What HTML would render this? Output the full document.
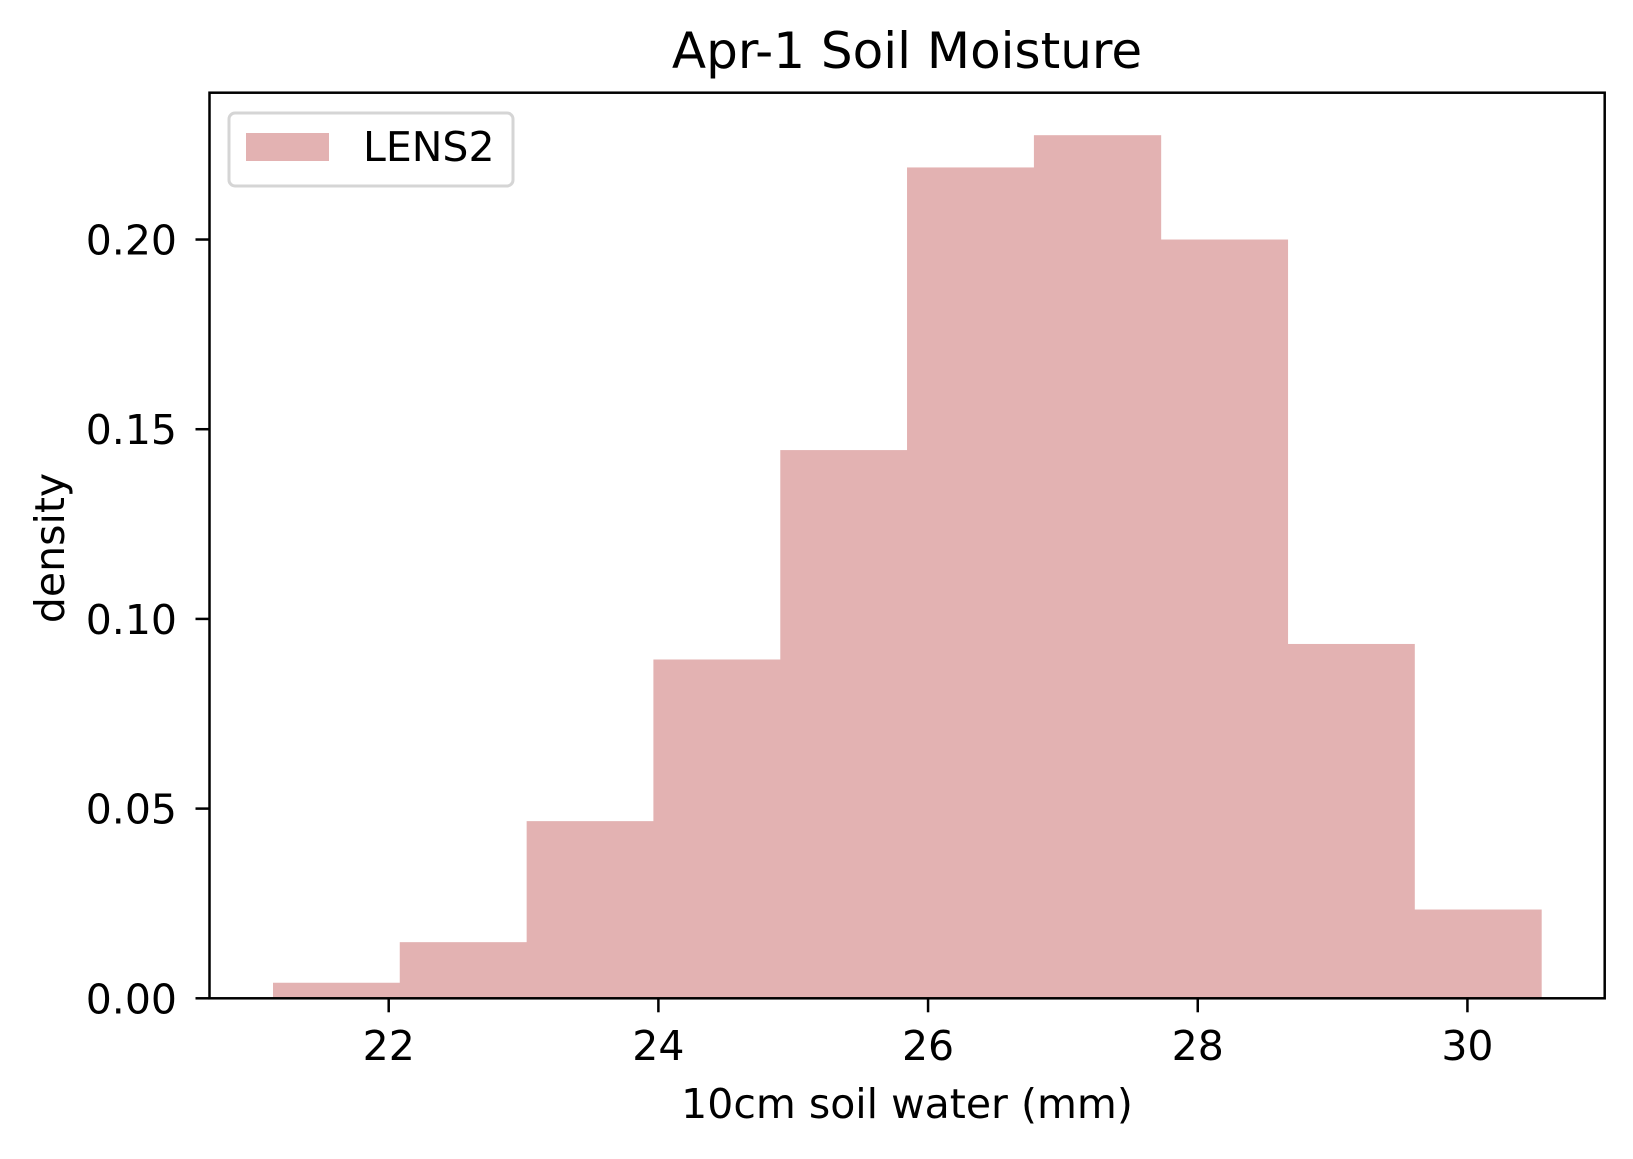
<!DOCTYPE html>
<html><head><meta charset="utf-8"><style>
body{margin:0;background:#fff}
text{font-family:"DejaVu Sans","Liberation Sans",sans-serif;fill:#000}
</style></head><body>
<svg id="chart" width="1633" height="1154" xmlns="http://www.w3.org/2000/svg">
<rect width="1633" height="1154" fill="#fff"/>
<g id="bars"></g>
<g id="axes"></g>
<text x="907" y="68" font-size="50" text-anchor="middle">Apr-1 Soil Moisture</text>
<text x="907" y="1118" font-size="41" text-anchor="middle">10cm soil water (mm)</text>
<text transform="translate(64,548) rotate(-90)" font-size="41" text-anchor="middle">density</text>
<g>
<rect x="229" y="113" width="284" height="73" rx="6" fill="#fff" fill-opacity="0.8" stroke="#d5d5d5" stroke-width="3"/>
<rect x="246" y="133" width="83" height="28" fill="#e3b2b2"/>
<text x="363" y="161" font-size="41">LENS2</text>
</g>
</svg>
<script>
const binEdges=[21.142,22.082,23.023,23.963,24.904,25.844,26.785,27.725,28.666,29.606,30.547];
const densities=[0.0041,0.0148,0.0467,0.0893,0.1445,0.219,0.2275,0.200,0.0934,0.0234];
const xTicks=[22,24,26,28,30];
const yTicks=[0,0.05,0.10,0.15,0.20];
const yTickLabels=["0.00","0.05","0.10","0.15","0.20"];
const L=209.5,R=1604.7,T=92.7,B=998.3,xmin=20.671,xmax=31.018,ymax=0.2387;
const sx=v=>L+(v-xmin)/(xmax-xmin)*(R-L);
const sy=v=>B-v/ymax*(B-T);
const NS="http://www.w3.org/2000/svg";
const bars=document.getElementById('bars'),axes=document.getElementById('axes');
function mk(tag,attrs,parent){const e=document.createElementNS(NS,tag);for(const k in attrs)e.setAttribute(k,attrs[k]);parent.appendChild(e);return e;}
densities.forEach((d,i)=>{
 const x0=sx(binEdges[i]),x1=sx(binEdges[i+1]);
 const r=mk('rect',{x:x0,y:sy(d),width:x1-x0+0.5,height:B-sy(d),fill:'#e3b2b2'},bars);
 
 
});
const frame=mk('rect',{x:L,y:T,width:R-L,height:B-T,fill:'none',stroke:'#000','stroke-width':2.5},axes);


xTicks.forEach(v=>{
 const x=sx(v);
 const t=mk('line',{x1:x,x2:x,y1:B,y2:B+14,stroke:'#000','stroke-width':2.5},axes);
 
 
 const l=mk('text',{x:x,y:1060,'font-size':41,'text-anchor':'middle'},axes);l.textContent=v;
 
 
});
yTicks.forEach((v,i)=>{
 const y=sy(v);
 const t=mk('line',{x1:L-14,x2:L,y1:y,y2:y,stroke:'#000','stroke-width':2.5},axes);
 
 
 const l=mk('text',{x:177,y:y+15,'font-size':41,'text-anchor':'end'},axes);l.textContent=yTickLabels[i];
 
 
});
</script>
</body></html>
